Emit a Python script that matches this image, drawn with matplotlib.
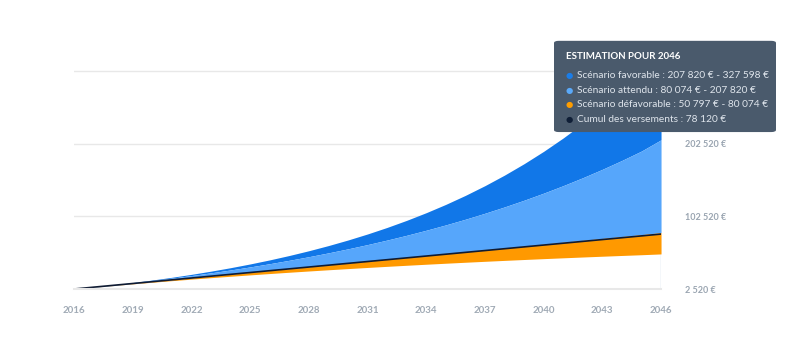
import matplotlib
matplotlib.use('Agg')
import matplotlib.pyplot as plt
from matplotlib.patches import FancyBboxPatch

plt.rcParams['font.family'] = ['Lato', 'DejaVu Sans']

# years shown on the x axis
years = list(range(2016, 2047))
tick_years = [2016, 2019, 2022, 2025, 2028, 2031, 2034, 2037, 2040, 2043, 2046]

# (euros)
favorable_top = [2520, 5249, 8204, 11403, 14867, 18618, 22680, 27078, 31840, 36996,
                 42579, 48625, 55171, 62259, 69934, 78245, 87244, 96988, 107539, 118963,
                 131333, 144727, 159230, 174934, 191939, 210352, 230289, 251877, 275252, 300563,
                 327598]
attendu_top = [2520, 5186, 8007, 10991, 14148, 17489, 21023, 24762, 28718, 32904,
               37332, 42017, 46974, 52219, 57768, 63639, 69850, 76421, 83373, 90729,
               98511, 106745, 115456, 124672, 134423, 144740, 155655, 167203, 179421, 192347,
               207820]
defavorable_top = [2520, 5044, 7572, 10104, 12640, 15180, 17724, 20272, 22824, 25380,
                   27940, 30504, 33072, 35644, 38220, 40800, 43384, 45972, 48564, 51160,
                   53760, 56364, 58972, 61584, 64200, 66820, 69444, 72072, 74704, 77340,
                   80074]
defavorable_low = [2520, 4962, 7328, 9621, 11843, 13996, 16082, 18103, 20062, 21960,
                   23799, 25581, 27308, 28981, 30603, 32174, 33697, 35172, 36602, 37987,
                   39329, 40630, 41890, 43111, 44295, 45442, 46553, 47630, 48673, 49684,
                   50797]
versements = [2520, 5040, 7560, 10080, 12600, 15120, 17640, 20160, 22680, 25200,
              27720, 30240, 32760, 35280, 37800, 40320, 42840, 45360, 47880, 50400,
              52920, 55440, 57960, 60480, 63000, 65520, 68040, 70560, 73080, 75600,
              78120]

# the top tick label sits under the tooltip, so only its gridline shows
y_ticks = [2520, 102520, 202520, 302520]
y_labels = ['2 520 €', '102 520 €', '202 520 €', '']

tooltip_title = 'ESTIMATION POUR 2046'
tooltip_lines = ['Scénario favorable : 207 820 € - 327 598 €',
                 'Scénario attendu : 80 074 € - 207 820 €',
                 'Scénario défavorable : 50 797 € - 80 074 €',
                 'Cumul des versements : 78 120 €']

c_dark = '#1177e8'
c_light = '#56a6fb'
c_orange = '#ff9900'
c_line = '#0f1b33'
dot_colors = ['#1a7de8', '#5aa9f9', '#ff9d00', '#0f1e36']

fig = plt.figure(figsize=(8, 3.55), dpi=100)
ax = fig.add_axes([0.0925, 0.1859, 0.7338, 0.6704])

ax.fill_between(years, attendu_top, favorable_top, color=c_dark, lw=0)
ax.fill_between(years, defavorable_top, attendu_top, color=c_light, lw=0)
ax.fill_between(years, defavorable_low, defavorable_top, color=c_orange, lw=0)
ax.plot(years, versements, color=c_line, lw=1.2)

# hover line at 2046
ax.axvline(2046, color='#c9d9ea', lw=1, zorder=0.5)

ax.set_xlim(2016, 2046)
ax.set_ylim(2520, 330000)
ax.set_xticks(tick_years)
ax.set_xticklabels([str(y) for y in tick_years])
ax.set_yticks(y_ticks)
ax.set_yticklabels(y_labels)
ax.yaxis.tick_right()
ax.tick_params(axis='y', length=0, pad=17, labelsize=6.5, labelcolor='#9aa5b1')
ax.tick_params(axis='x', length=0, pad=12, labelsize=7, labelcolor='#a0aab5')
for lab in ax.get_yticklabels():
    lab.set_fontweight('bold')
for lab in ax.get_xticklabels():
    lab.set_fontweight('bold')

ax.grid(axis='y', color='#e8e8e8', lw=1)
ax.set_axisbelow(True)
for s in ['top', 'right', 'left']:
    ax.spines[s].set_visible(False)
ax.spines['bottom'].set_color('#e8e8e8')
ax.spines['bottom'].set_linewidth(1.5)
ax.patch.set_alpha(0)

# tooltip box
box = FancyBboxPatch((0.6925, 0.628), 0.2775, 0.257, boxstyle='round,pad=0,rounding_size=0.006',
                     transform=fig.transFigure, facecolor='#4a5a6c', edgecolor='none', zorder=5)
fig.patches.append(box)
fig.text(0.707, 0.842, tooltip_title, color='white', fontsize=7, fontweight='bold',
         va='center', ha='left', zorder=6)
for i, (txt, dc) in enumerate(zip(tooltip_lines, dot_colors)):
    yy = 0.786 - i * 0.0405
    fig.text(0.7115, yy, '●', color=dc, fontsize=6, va='center', ha='center', zorder=6,
             family='DejaVu Sans')
    fig.text(0.7215, yy, txt, color='#dfe5ec', fontsize=7.3, va='center', ha='left', zorder=6)

fig.savefig('out.png', dpi=100)
